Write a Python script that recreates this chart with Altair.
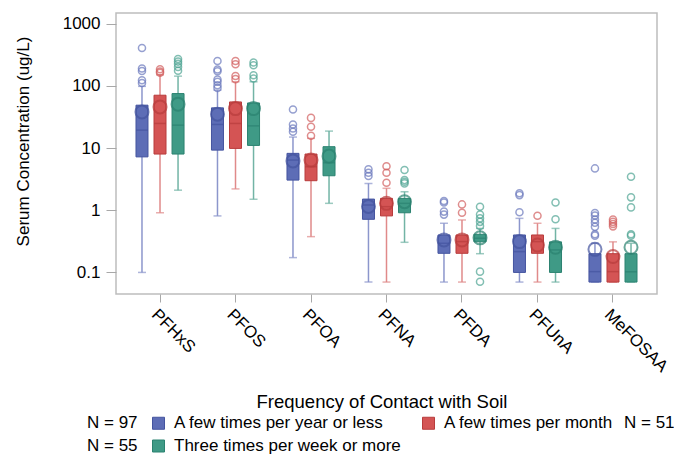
import altair as alt
import pandas as pd

# compounds on the x axis and the three soil-contact groups
compounds = ['PFHxS', 'PFOS', 'PFOA', 'PFNA', 'PFDA', 'PFUnA', 'MeFOSAA']
groups = ['A few times per year or less', 'A few times per month', 'Three times per week or more']
group_n = [97, 51, 55]

# box statistics (ug/L), one list per group, in compound order
low_year = [0.1, 0.81, 0.173, 0.07, 0.07, 0.07, 0.07]
q1_year = [7.2, 9.25, 3.05, 0.714, 0.203, 0.1, 0.07]
med_year = [19.4, 23.9, 6.4, 1.21, 0.294, 0.216, 0.103]
q3_year = [48.8, 44.2, 8.2, 1.51, 0.40, 0.40, 0.2]
high_year = [98, 85, 15, 2.7, 0.617, 0.74, 0.294]
mean_year = [38, 35, 6.2, 1.15, 0.333, 0.313, 0.235]

low_month = [0.91, 2.2, 0.376, 0.07, 0.07, 0.07, 0.07]
q1_month = [8.0, 9.85, 2.98, 0.81, 0.203, 0.203, 0.07]
med_month = [24.8, 24.8, 5.0, 1.14, 0.313, 0.313, 0.103]
q3_month = [70.6, 55, 8.0, 1.55, 0.40, 0.40, 0.2]
high_month = [150, 116, 14.3, 2.25, 0.697, 0.617, 0.31]
mean_month = [45.8, 43, 6.4, 1.29, 0.333, 0.276, 0.18]

low_week = [2.1, 1.5, 1.29, 0.305, 0.2, 0.07, 0.07]
q1_week = [8.0, 11, 3.58, 0.91, 0.31, 0.1, 0.07]
med_week = [23.3, 22.7, 5.8, 1.29, 0.354, 0.23, 0.103]
q3_week = [75, 53, 10.5, 1.55, 0.41, 0.31, 0.2]
high_week = [143, 116, 18.7, 1.98, 0.51, 0.51, 0.294]
mean_week = [50.7, 43, 7.4, 1.37, 0.36, 0.254, 0.254]

# outliers per compound
out_year = [[405, 190, 173, 123, 111], [251, 183, 171, 126, 116, 102, 92],
            [41.6, 23.9, 20.6, 18.2], [4.54, 4.0, 3.54], [1.41, 1.33, 0.95, 0.85],
            [1.87, 1.75, 0.925], [4.7, 0.9, 0.82, 0.71, 0.63, 0.54, 0.41, 0.39]]
out_month = [[185, 170, 162], [251, 222, 144, 128], [30.5, 21.9, 15.7],
             [5.1, 4.0, 2.76], [1.24, 0.91], [0.817], [0.71, 0.65, 0.6, 0.55]]
out_week = [[270, 245, 225, 200, 175], [237, 214, 148, 131], [],
            [4.42, 3.05, 2.86, 2.7], [1.14, 0.85, 0.74, 0.65, 0.557, 0.103, 0.071],
            [1.33, 0.714], [3.45, 1.61, 1.11, 0.41, 0.39]]

fill_colors = ['#5d6db6', '#d45454', '#3f9a86']
dark_colors = ['#44549f', '#b83c3c', '#2b8270']
light_colors = ['#8c96cc', '#e08a8a', '#72b4a5']
out_colors = ['#6a78bd', '#d25e5e', '#4ea493']

# build the tables
stat_sets = [
    (low_year, q1_year, med_year, q3_year, high_year, mean_year),
    (low_month, q1_month, med_month, q3_month, high_month, mean_month),
    (low_week, q1_week, med_week, q3_week, high_week, mean_week),
]
rows = []
for g, st in zip(groups, stat_sets):
    for i, c in enumerate(compounds):
        rows.append({'compound': c, 'group': g, 'low': st[0][i], 'q1': st[1][i],
                     'med': st[2][i], 'q3': st[3][i], 'high': st[4][i], 'mean': st[5][i]})
stats = pd.DataFrame(rows)

out_rows = []
for g, outs in zip(groups, [out_year, out_month, out_week]):
    for c, vals in zip(compounds, outs):
        for v in vals:
            out_rows.append({'compound': c, 'group': g, 'value': v})
outliers = pd.DataFrame(out_rows)

n_left = pd.DataFrame({'nlab': ['N = %d' % group_n[0], 'N = %d' % group_n[2]]})
n_right = pd.DataFrame({'nlab': ['N = %d' % group_n[1]]})

# shared scales and axes
x_enc = alt.X('compound:N', sort=compounds, title=None,
              scale=alt.Scale(paddingInner=0, paddingOuter=0.083),
              axis=alt.Axis(labelAngle=45, labelFontSize=17, labelColor='black',
                            tickSize=8, tickColor='#a8a8a8', domain=False, labelPadding=4))
xoff = alt.XOffset('group:N', scale=alt.Scale(domain=groups, paddingInner=0, paddingOuter=0.594))
yscale = alt.Scale(type='log', domain=[0.045, 1480], nice=False)
yaxis = alt.Axis(values=[0.1, 1, 10, 100, 1000], format='~g', grid=False, domain=False,
                 tickSize=10, tickColor='#a8a8a8', labelFontSize=17, labelColor='black',
                 labelPadding=6, titleFontSize=17, titleFontWeight='normal',
                 titleColor='black', titlePadding=30, titleY=128)
ytitle = 'Serum Concentration (ug/L)'


def y_enc(field):
    return alt.Y(field + ':Q', scale=yscale, axis=yaxis, title=ytitle)


def grp(channel, colors):
    return channel('group:N', scale=alt.Scale(domain=groups, range=colors), legend=None)


base = alt.Chart(stats)

whiskers = base.mark_rule(strokeWidth=1.5).encode(
    x=x_enc, xOffset=xoff, y=y_enc('low'), y2='high:Q', stroke=grp(alt.Stroke, light_colors))

cap_low = base.mark_tick(size=8, thickness=1.5).encode(
    x=x_enc, xOffset=xoff, y=y_enc('low'), color=grp(alt.Color, light_colors))
cap_high = base.mark_tick(size=8, thickness=1.5).encode(
    x=x_enc, xOffset=xoff, y=y_enc('high'), color=grp(alt.Color, light_colors))

boxes = base.mark_bar(size=12, strokeWidth=1).encode(
    x=x_enc, xOffset=xoff, y=y_enc('q1'), y2='q3:Q',
    color=alt.Color('group:N', scale=alt.Scale(domain=groups, range=fill_colors),
                    legend=alt.Legend(title='Frequency of Contact with Soil', orient='none',
                                      legendX=34, legendY=380, columns=2,
                                      direction='horizontal',
                                      titleAnchor='middle', titleFontSize=18.5,
                                      titleFontWeight='normal', titleColor='black',
                                      titlePadding=3, titleLimit=600,
                                      labelFontSize=17, labelColor='black',
                                      symbolType='square', symbolSize=144,
                                      symbolStrokeWidth=1, rowPadding=5, columnPadding=19,
                                      labelOffset=7, labelLimit=400)),
    stroke=grp(alt.Stroke, dark_colors))

medians = base.mark_tick(size=12, thickness=1.5).encode(
    x=x_enc, xOffset=xoff, y=y_enc('med'), color=grp(alt.Color, dark_colors))

means = base.mark_point(shape='circle', filled=False, size=170, strokeWidth=2).encode(
    x=x_enc, xOffset=xoff, y=y_enc('mean'), color=grp(alt.Color, dark_colors))

outs = alt.Chart(outliers).mark_point(shape='circle', filled=False, size=50, strokeWidth=1.5).encode(
    x=x_enc, xOffset=xoff, y=y_enc('value'), color=grp(alt.Color, out_colors))

# group sizes shown beside the legend
n_legend = dict(title=None, orient='none', legendY=401, labelFontSize=17, labelColor='black',
                symbolSize=0, symbolOpacity=0, symbolStrokeWidth=0, labelOffset=0, rowPadding=5)
left_n = alt.Chart(n_left).mark_point(opacity=0).encode(
    shape=alt.Shape('nlab:N', sort=None, legend=alt.Legend(legendX=-46, **n_legend)))
right_n = alt.Chart(n_right).mark_point(opacity=0).encode(
    shape=alt.Shape('nlab:N', legend=alt.Legend(legendX=491, **n_legend)))

chart = alt.layer(whiskers, cap_low, cap_high, boxes, medians, means, outs, left_n, right_n).resolve_scale(
    color='independent', stroke='independent', shape='independent'
).properties(
    width=541, height=281,
    autosize=alt.AutoSizeParams(type='none'),
    padding={'left': 108, 'top': 5, 'right': 17, 'bottom': 160}
).configure(
    font='Liberation Sans'
).configure_view(
    stroke='#bdbdbd', strokeWidth=1.5
)

chart.save('out.html', embed_options={'renderer': 'svg', 'actions': False})
